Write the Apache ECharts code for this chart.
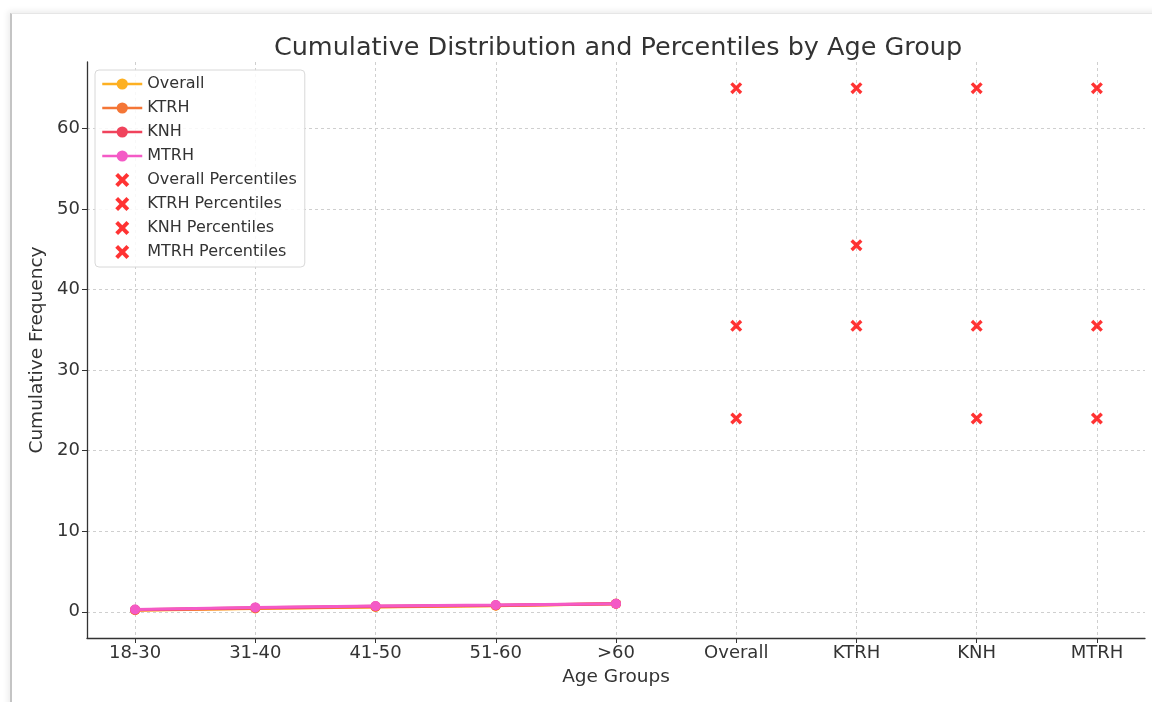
<!DOCTYPE html>
<html>
<head>
<meta charset="utf-8">
<script src="https://cdn.jsdelivr.net/npm/echarts@6/dist/echarts.min.js"></script>
<style>
  html, body { margin: 0; padding: 0; background: #ffffff; }
  #card { position: absolute; left: 10px; top: 13px; width: 1300px; height: 900px;
          border-left: 2px solid #c4c4c4; border-top: 1px solid #e6e6e6;
          box-shadow: -2px -2px 6px rgba(0,0,0,0.08); background: #fff; }
  #chart { position: absolute; left: 0; top: 0; width: 1152px; height: 702px; }
</style>
</head>
<body>
<div id="card"></div>
<div id="chart"></div>
<script>
// ---- data ----
const categories = ['18-30', '31-40', '41-50', '51-60', '>60', 'Overall', 'KTRH', 'KNH', 'MTRH'];
const ageGroups = ['18-30', '31-40', '41-50', '51-60', '>60'];
const overallCum = [0.20, 0.42, 0.60, 0.75, 1.00];
const ktrhCum    = [0.22, 0.45, 0.62, 0.78, 1.00];
const knhCum     = [0.25, 0.50, 0.68, 0.82, 1.00];
const mtrhCum    = [0.28, 0.55, 0.72, 0.85, 1.00];
const overallPct = [24, 35.5, 65];
const ktrhPct    = [35.5, 45.5, 65];
const knhPct     = [24, 35.5, 65];
const mtrhPct    = [24, 35.5, 65];
const yTicks = [0, 10, 20, 30, 40, 50, 60];

const lineNames = ['Overall', 'KTRH', 'KNH', 'MTRH'];
const lineData = [overallCum, ktrhCum, knhCum, mtrhCum];
const lineColors = ['#fdb022', '#f47636', '#f0435c', '#f45ac6'];
const pctNames = ['Overall Percentiles', 'KTRH Percentiles', 'KNH Percentiles', 'MTRH Percentiles'];
const pctCats = ['Overall', 'KTRH', 'KNH', 'MTRH'];
const pctData = [overallPct, ktrhPct, knhPct, mtrhPct];

const xPath = 'path://M2,0 L5,3 L8,0 L10,2 L7,5 L10,8 L8,10 L5,7 L2,10 L0,8 L3,5 L0,2 Z';
const FONT = 'DejaVu Sans';
const xTickIdx = categories.map((c, i) => i);

const series = [];
lineNames.forEach((n, i) => {
  series.push({
    name: n, type: 'line',
    data: ageGroups.map((c, j) => [categories.indexOf(c), lineData[i][j]]),
    symbol: 'circle', symbolSize: 10,
    itemStyle: { color: lineColors[i] },
    lineStyle: { color: lineColors[i], width: 3 },
    z: 3 + i
  });
});
pctNames.forEach((n, i) => {
  series.push({
    name: n, type: 'scatter',
    data: pctData[i].map(v => [categories.indexOf(pctCats[i]), v]),
    symbol: xPath, symbolSize: 12, symbolKeepAspect: true,
    itemStyle: { color: '#ff0000' },
    z: 10
  });
});

const chart = echarts.init(document.getElementById('chart'), null, { renderer: 'canvas' });
chart.setOption({
  animation: false,
  backgroundColor: 'transparent',
  textStyle: { fontFamily: FONT },
  title: {
    text: 'Cumulative Distribution and Percentiles by Age Group',
    left: 613, top: 30, textAlign: 'center',
    textStyle: { fontFamily: FONT, fontSize: 25.5, fontWeight: 'normal', color: '#333' }
  },
  legend: {
    orient: 'vertical', left: 95, top: 70,
    padding: [6, 8, 7, 6], itemGap: 8, itemWidth: 40, itemHeight: 14,
    backgroundColor: 'rgba(255,255,255,0.85)',
    borderColor: '#d8d8d8', borderWidth: 1, borderRadius: 4,
    lineStyle: { width: 2.5 },
    textStyle: { fontFamily: FONT, fontSize: 16, lineHeight: 16, color: '#333' },
    data: lineNames.concat(pctNames)
  },
  grid: { left: 87, right: 7, top: 62, bottom: 64 },
  xAxis: {
    type: 'value', min: -0.4, max: 8.4,
    name: 'Age Groups', nameLocation: 'middle', nameGap: 30,
    nameTextStyle: { fontFamily: FONT, fontSize: 18.5, color: '#333' },
    axisLine: { show: true, onZero: false, lineStyle: { color: '#333', width: 1.3 } },
    axisTick: { show: true, length: 5, customValues: xTickIdx, lineStyle: { color: '#333' } },
    axisLabel: { customValues: xTickIdx, formatter: v => categories[Math.round(v)],
                 fontFamily: FONT, fontSize: 18, color: '#333', margin: 6 },
    splitLine: { show: true, lineStyle: { color: '#cfcfcf', type: [3, 3], width: 1 } }
  },
  yAxis: {
    type: 'value', min: -3.25, max: 68.25,
    name: 'Cumulative Frequency', nameLocation: 'middle', nameGap: 38, nameRotate: 90,
    nameTextStyle: { fontFamily: FONT, fontSize: 18.5, color: '#333' },
    axisLine: { show: true, onZero: false, lineStyle: { color: '#333', width: 1.3 } },
    axisTick: { show: true, length: 5, customValues: yTicks, lineStyle: { color: '#333' } },
    axisLabel: { customValues: yTicks, fontFamily: FONT, fontSize: 18, color: '#333', margin: 7 },
    splitLine: { show: true, lineStyle: { color: '#cfcfcf', type: [3, 3], width: 1 } }
  },
  series: series
});
</script>
</body>
</html>
